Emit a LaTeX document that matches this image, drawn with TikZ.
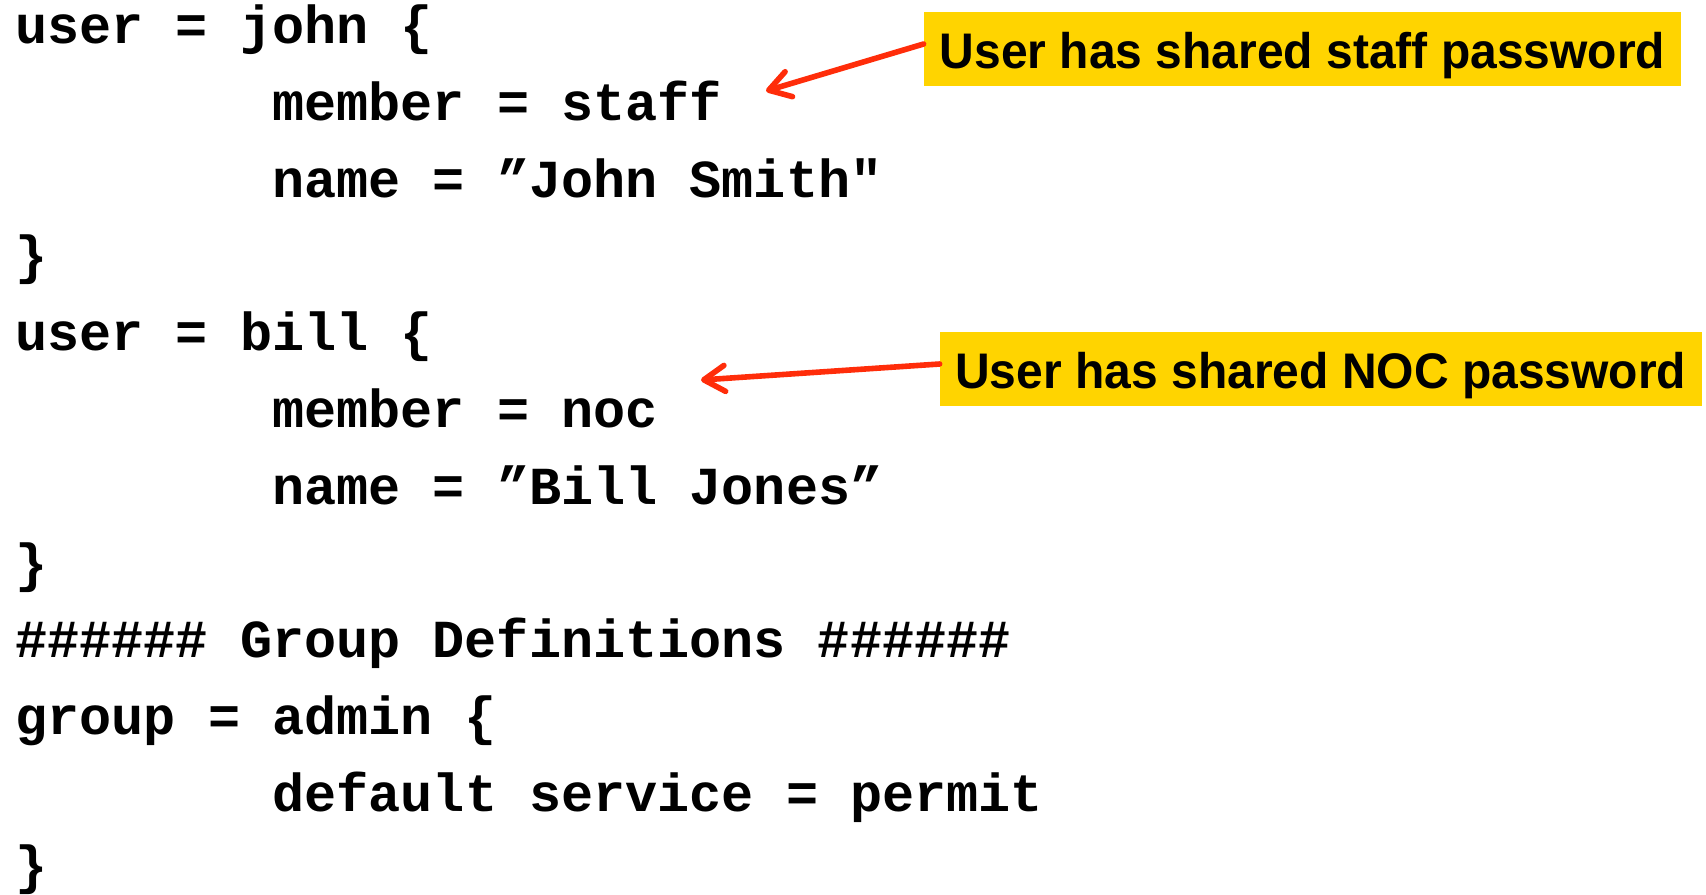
\documentclass[tikz,border=0pt]{standalone}
\usepackage{fontspec}
\setmainfont{Liberation Sans}
\newfontfamily\codefont{Liberation Mono}
\newfontfamily\calloutfont{Liberation Sans}[FakeStretch=0.96]
\usetikzlibrary{arrows.meta}
\definecolor{calloutyellow}{RGB}{255,212,0}
\definecolor{arrowred}{RGB}{255,45,10}
\begin{document}
\begin{tikzpicture}[x=0.5pt,y=-0.5pt,
  code/.style={anchor=base west, inner sep=0pt, font=\codefont\bfseries\fontsize{26.75}{30}\selectfont},
  callout/.style={fill=calloutyellow, inner xsep=0pt, inner ysep=0pt, minimum height=37pt,
    text height=28.15pt, text depth=8.85pt, font=\calloutfont\bfseries\fontsize{25}{30}\selectfont},
  pointer/.style={draw=arrowred, line width=2.8pt, line cap=round,
    -{Straight Barb[length=10.5pt,width=13pt,round]}}]
\useasboundingbox (0,0) rectangle (1706,894);
\fill[white] (0,0) rectangle (1706,894);
% code lines
\node[code] (l0)  at (15,43.5)  {user = john \{};
\node[code] (l1)  at (272,120.3) {member = staff};
\node[code] (l2)  at (272,197.1) {name = ”John Smith"};
\node[code] (l3)  at (15,273.9) {\}};
\node[code] (l4)  at (15,350.7) {user = bill \{};
\node[code] (l5)  at (272,427.5) {member = noc};
\node[code] (l6)  at (272,504.3) {name = ”Bill Jones”};
\node[code] (l7)  at (15,581.1) {\}};
\node[code] (l8)  at (15,657.9) {\#\#\#\#\#\# Group Definitions \#\#\#\#\#\#};
\node[code] (l9)  at (15,734.7) {group = admin \{};
\node[code] (l10) at (272,811.5) {default service = permit};
\node[code] (l11) at (15,883) {\}};
% callouts
\node[callout, minimum width=378.5pt] (b1) at (1302.5,49) {User has shared staff password};
\node[callout, minimum width=380.75pt] (b2) at (1320.75,369) {User has shared NOC password};
% pointers
\coordinate (t1) at (766,91);
\coordinate (t2) at (701,380);
\draw[pointer] ([yshift=2.5pt]b1.west) -- (t1);
\draw[pointer] ([yshift=2.5pt]b2.west) -- (t2);
\end{tikzpicture}
\end{document}
